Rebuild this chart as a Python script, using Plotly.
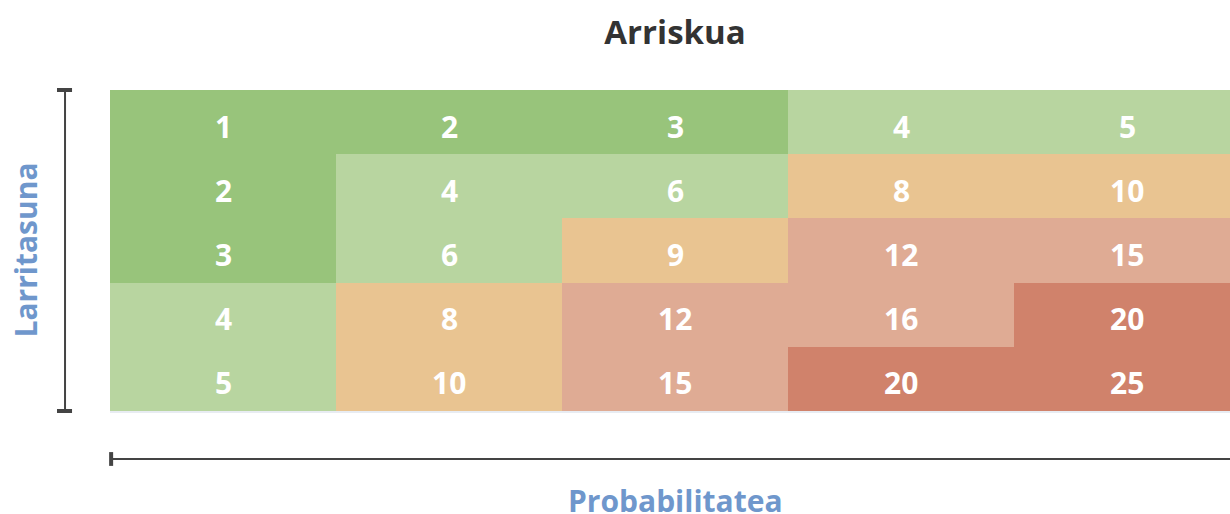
import plotly.graph_objects as go

# Data
probability = ["1", "2", "3", "4", "5"]          # columns (Probabilitatea)
severity = ["1", "2", "3", "4", "5"]            # rows (Larritasuna), top to bottom
risk_values = [
    [1, 2, 3, 4, 5],
    [2, 4, 6, 8, 10],
    [3, 6, 9, 12, 15],
    [4, 8, 12, 16, 20],
    [5, 10, 15, 20, 25],
]
risk_levels = [
    [0, 0, 0, 1, 1],
    [0, 1, 1, 2, 2],
    [0, 1, 2, 3, 3],
    [1, 2, 3, 3, 4],
    [1, 2, 3, 4, 4],
]
level_colors = ["#98c47b", "#b8d5a0", "#e9c491", "#dfab94", "#d0826b"]

n = len(level_colors)
colorscale = []
for i, c in enumerate(level_colors):
    colorscale.append([i / n, c])
    colorscale.append([(i + 1) / n, c])

fig = go.Figure(go.Heatmap(
    x=probability,
    y=severity,
    z=risk_levels,
    colorscale=colorscale,
    zmin=-0.5, zmax=n - 0.5,
    showscale=False,
    hoverinfo="skip",
))

# cell labels placed via category indices on the axes
cell_annotations = []
for i in range(len(severity)):
    for j in range(len(probability)):
        cell_annotations.append(dict(
            x=j, y=i, xref="x", yref="y",
            text=f"<b>{risk_values[i][j]}</b>", showarrow=False, yshift=-4,
            font=dict(family="Open Sans", size=30, color="white"),
        ))

line_color = "#444444"
shapes = [
    # vertical axis line with caps
    dict(type="line", xref="paper", yref="paper", x0=-0.0398, x1=-0.0398, y0=0, y1=1,
         line=dict(color=line_color, width=2)),
    dict(type="line", xref="paper", yref="paper", x0=-0.0469, x1=-0.0336, y0=1, y1=1,
         line=dict(color=line_color, width=4)),
    dict(type="line", xref="paper", yref="paper", x0=-0.0469, x1=-0.0336, y0=0, y1=0,
         line=dict(color=line_color, width=4)),
    # horizontal axis line with cap
    dict(type="line", xref="paper", yref="paper", x0=0, x1=1, y0=-0.1495, y1=-0.1495,
         line=dict(color=line_color, width=2)),
    dict(type="line", xref="paper", yref="paper", x0=0.001, x1=0.001, y0=-0.128, y1=-0.171,
         line=dict(color=line_color, width=4)),
]

fig.update_layout(
    width=1240, height=514,
    margin=dict(l=110, r=0, t=90, b=103),
    paper_bgcolor="white", plot_bgcolor="white",
    title=dict(text="<b>Arriskua</b>", x=0.5, xref="paper", xanchor="center", y=0.936, yanchor="middle",
               font=dict(family="Open Sans", size=33, color="#333333")),
    xaxis=dict(type="category", categoryorder="array", categoryarray=probability,
               range=[-0.5, len(probability) - 0.5],
               showticklabels=False, ticks="", showgrid=False, zeroline=False,
               showline=True, linecolor="#e8ecf2", linewidth=2, mirror=False, fixedrange=True),
    yaxis=dict(type="category", categoryorder="array", categoryarray=severity,
               range=[len(severity) - 0.5, -0.5],
               showticklabels=False, ticks="", showgrid=False, zeroline=False,
               showline=False, fixedrange=True),
    shapes=shapes,
    annotations=cell_annotations + [
        dict(text="<b>Probabilitatea</b>", xref="paper", yref="paper", x=0.5, y=-0.28,
             xanchor="center", yanchor="middle", showarrow=False,
             font=dict(family="Open Sans", size=30, color="#6f97cc")),
        dict(text="<b>Larritasuna</b>", xref="paper", yref="paper", x=-0.0752, y=0.5,
             xanchor="center", yanchor="middle", showarrow=False, textangle=-90,
             font=dict(family="Open Sans", size=30, color="#6f97cc")),
    ],
)

fig.write_html(
    "out.html",
    config={"displayModeBar": False},
    post_script="document.body.style.margin='0';document.body.style.overflow='hidden';",
)
